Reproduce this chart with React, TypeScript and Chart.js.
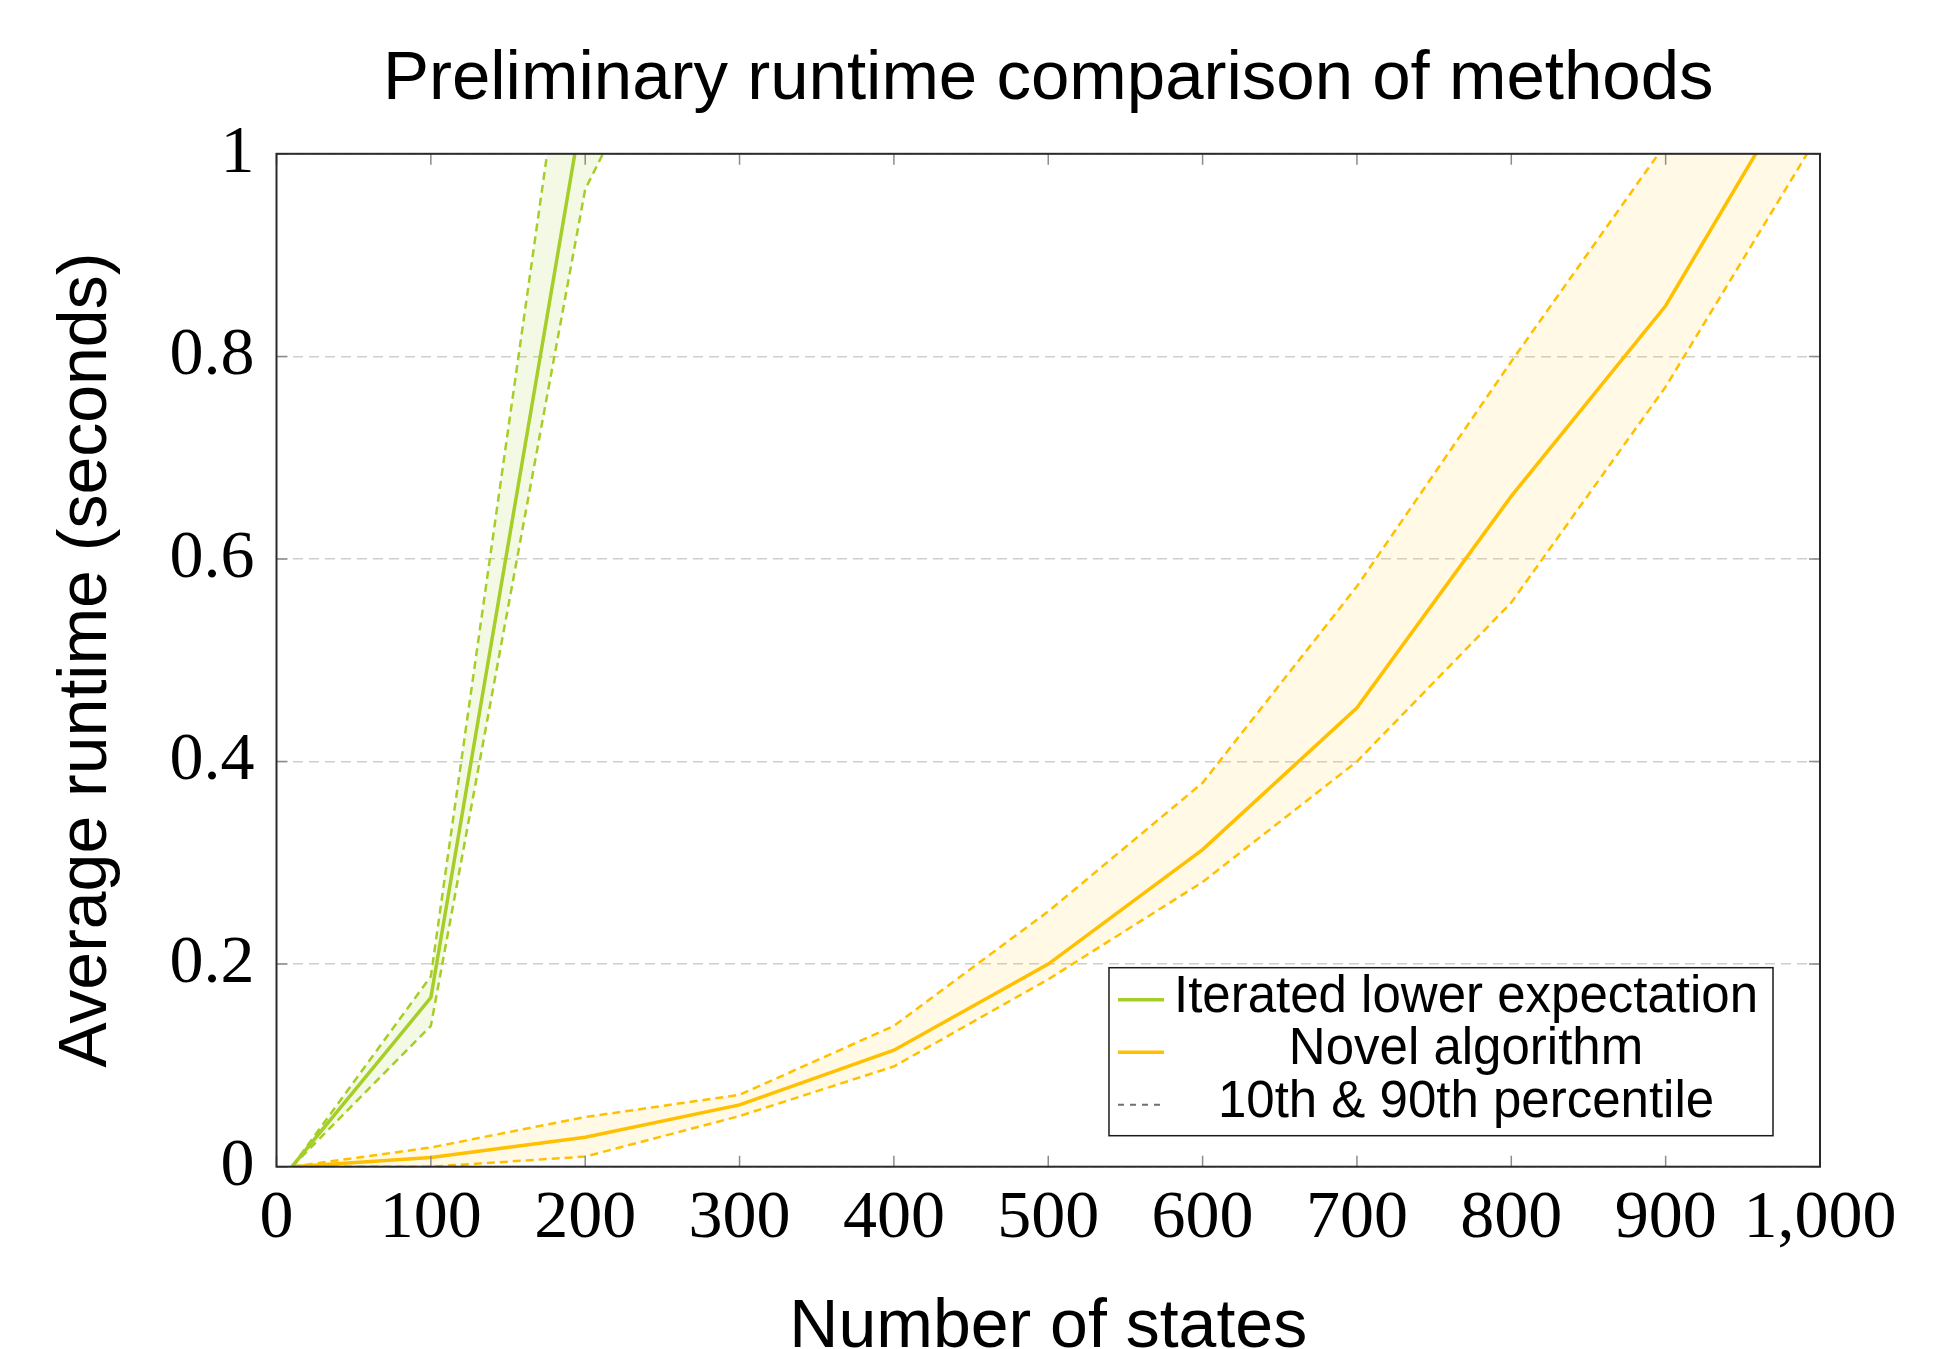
import React, { useEffect, useRef } from 'react';
import { Chart, registerables } from 'chart.js';

Chart.register(...registerables);

// ---- Data ----
const titleText = 'Preliminary runtime comparison of methods';
const xAxisTitle = 'Number of states';
const yAxisTitle = 'Average runtime (seconds)';

const greenStates = [10, 100, 200, 300];
const greenMean = [0, 0.167, 1.06, 2.1];
const greenP90 = [0, 0.188, 1.266, 2.6];
const greenP10 = [0, 0.139, 0.965, 1.27];

const novelStates = [10, 100, 200, 300, 400, 500, 600, 700, 800, 900, 1000];
const novelMean = [0, 0.009, 0.029, 0.061, 0.115, 0.2, 0.313, 0.453, 0.662, 0.85, 1.107];
const novelP90 = [0, 0.019, 0.049, 0.071, 0.139, 0.252, 0.379, 0.573, 0.795, 1.01, 1.25];
const novelP10 = [0, 0.0, 0.01, 0.05, 0.099, 0.185, 0.281, 0.4, 0.557, 0.77, 1.021];

const xTickValues = [0, 100, 200, 300, 400, 500, 600, 700, 800, 900, 1000];
const xTickLabels = ['0', '100', '200', '300', '400', '500', '600', '700', '800', '900', '1,000'];
const yTickValues = [0, 0.2, 0.4, 0.6, 0.8, 1];
const yTickLabels = ['0', '0.2', '0.4', '0.6', '0.8', '1'];

const seriesNames = ['Iterated lower expectation', 'Novel algorithm'];
const percentileName = '10th & 90th percentile';

const GREEN = '#a6ce28';
const YELLOW = '#ffc000';
const GREEN_FILL = 'rgba(166,206,40,0.12)';
const YELLOW_FILL = 'rgba(255,192,0,0.10)';

const SANS = '"Liberation Sans", Arial, sans-serif';
const SERIF = '"Liberation Serif", "Times New Roman", serif';

const toPoints = (xs: number[], ys: number[]) => xs.map((x, i) => ({ x, y: ys[i] }));

const framePlugin = {
  id: 'frameTicks',
  afterDatasetsDraw(chart: any) {
    const { ctx, chartArea, scales } = chart;
    const { left, right, top, bottom } = chartArea;
    const xs = scales.x;
    const ys = scales.y;
    ctx.save();
    ctx.strokeStyle = '#8c8c8c';
    ctx.lineWidth = 1.5;
    ctx.setLineDash([]);
    ctx.beginPath();
    xs.ticks.forEach((t: any) => {
      const px = xs.getPixelForValue(t.value);
      ctx.moveTo(px, bottom);
      ctx.lineTo(px, bottom - 11);
      ctx.moveTo(px, top);
      ctx.lineTo(px, top + 11);
    });
    ys.ticks.forEach((t: any) => {
      const py = ys.getPixelForValue(t.value);
      ctx.moveTo(left, py);
      ctx.lineTo(left + 11, py);
      ctx.moveTo(right, py);
      ctx.lineTo(right - 11, py);
    });
    ctx.stroke();
    ctx.strokeStyle = '#2a2a2a';
    ctx.lineWidth = 2;
    ctx.strokeRect(left, top, right - left, bottom - top);
    ctx.restore();
  },
};

const legendPlugin = {
  id: 'boxLegend',
  afterDraw(chart: any) {
    const { ctx, chartArea } = chart;
    const entries = [
      { label: seriesNames[0], color: GREEN, dash: [] as number[], width: 3.5 },
      { label: seriesNames[1], color: YELLOW, dash: [] as number[], width: 3.5 },
      { label: percentileName, color: '#707070', dash: [6, 6], width: 2 },
    ];
    ctx.save();
    ctx.font = `51px ${SANS}`;
    const textW = Math.max(...entries.map((e) => ctx.measureText(e.label).width));
    const padL = 9;
    const sampleW = 46;
    const gap = 10;
    const padR = 15;
    const boxW = padL + sampleW + gap + textW + padR;
    const rowH = 52.5;
    const firstRow = 30;
    const boxH = firstRow + rowH * (entries.length - 1) + 33;
    const boxRight = chartArea.right - 47;
    const boxBottom = chartArea.bottom - 31;
    const boxLeft = boxRight - boxW;
    const boxTop = boxBottom - boxH;
    ctx.fillStyle = '#ffffff';
    ctx.fillRect(boxLeft, boxTop, boxW, boxH);
    ctx.strokeStyle = '#1a1a1a';
    ctx.lineWidth = 1.5;
    ctx.strokeRect(boxLeft, boxTop, boxW, boxH);
    entries.forEach((e, i) => {
      const cy = boxTop + firstRow + i * rowH;
      ctx.beginPath();
      ctx.setLineDash(e.dash);
      ctx.strokeStyle = e.color;
      ctx.lineWidth = e.width;
      ctx.moveTo(boxLeft + padL, cy + 2);
      ctx.lineTo(boxLeft + padL + sampleW, cy + 2);
      ctx.stroke();
      ctx.setLineDash([]);
      ctx.fillStyle = '#000000';
      ctx.textAlign = 'center';
      ctx.textBaseline = 'middle';
      ctx.fillText(e.label, boxLeft + padL + sampleW + gap + textW / 2, cy);
    });
    ctx.restore();
  },
};

export default function App() {
  const canvasRef = useRef<HTMLCanvasElement | null>(null);

  useEffect(() => {
    if (!canvasRef.current) return;
    const dashed = [8, 5];
    const bandWidth = 2.5;
    const meanWidth = 3.5;
    const chart = new Chart(canvasRef.current, {
      type: 'line',
      data: {
        datasets: [
          {
            label: percentileName,
            data: toPoints(greenStates, greenP90),
            borderColor: GREEN,
            borderWidth: bandWidth,
            borderDash: dashed,
            backgroundColor: GREEN_FILL,
            fill: '+1',
            pointRadius: 0,
            tension: 0,
            clip: 0,
          },
          {
            label: percentileName,
            data: toPoints(greenStates, greenP10),
            borderColor: GREEN,
            borderWidth: bandWidth,
            borderDash: dashed,
            fill: false,
            pointRadius: 0,
            tension: 0,
            clip: 0,
          },
          {
            label: seriesNames[0],
            data: toPoints(greenStates, greenMean),
            borderColor: GREEN,
            borderWidth: meanWidth,
            fill: false,
            pointRadius: 0,
            tension: 0,
            clip: 0,
          },
          {
            label: percentileName,
            data: toPoints(novelStates, novelP90),
            borderColor: YELLOW,
            borderWidth: bandWidth,
            borderDash: dashed,
            backgroundColor: YELLOW_FILL,
            fill: '+1',
            pointRadius: 0,
            tension: 0,
            clip: 0,
          },
          {
            label: percentileName,
            data: toPoints(novelStates, novelP10),
            borderColor: YELLOW,
            borderWidth: bandWidth,
            borderDash: dashed,
            fill: false,
            pointRadius: 0,
            tension: 0,
            clip: 0,
          },
          {
            label: seriesNames[1],
            data: toPoints(novelStates, novelMean),
            borderColor: YELLOW,
            borderWidth: meanWidth,
            fill: false,
            pointRadius: 0,
            tension: 0,
            clip: 0,
          },
        ],
      },
      options: {
        animation: false,
        responsive: true,
        maintainAspectRatio: false,
        layout: { padding: { left: 0, right: 122, top: 0, bottom: 0 } },
        plugins: {
          legend: { display: false },
          tooltip: { enabled: false },
          title: {
            display: true,
            text: titleText,
            fullSize: false,
            color: '#000000',
            font: { family: SANS, size: 69, weight: 'normal', lineHeight: 1.2 },
            padding: { top: 39, bottom: 32 },
          },
        },
        scales: {
          x: {
            type: 'linear',
            min: 0,
            max: 1000,
            afterBuildTicks: (scale: any) => {
              scale.ticks = xTickValues.map((v) => ({ value: v }));
            },
            afterFit: (scale: any) => {
              scale.height = 182.3;
            },
            grid: { display: false, drawTicks: false },
            border: { display: false },
            ticks: {
              color: '#000000',
              padding: 18,
              maxRotation: 0,
              autoSkip: false,
              font: { family: SERIF, size: 68, lineHeight: 1 },
              callback: (_v: any, i: number) => xTickLabels[i],
            },
            title: {
              display: true,
              text: xAxisTitle,
              color: '#000000',
              font: { family: SANS, size: 68, lineHeight: 0.62 },
              padding: { top: 0, bottom: 0 },
            },
          },
          y: {
            type: 'linear',
            min: 0,
            max: 1,
            afterBuildTicks: (scale: any) => {
              scale.ticks = yTickValues.map((v) => ({ value: v }));
            },
            afterFit: (scale: any) => {
              scale.width = 276.5;
            },
            grid: {
              display: true,
              drawTicks: false,
              color: '#cfcfcf',
              lineWidth: 1.5,
            },
            border: { display: false, dash: [10, 6] },
            ticks: {
              color: '#000000',
              padding: 22,
              autoSkip: false,
              font: { family: SERIF, size: 68, lineHeight: 1 },
              callback: (_v: any, i: number) => yTickLabels[i],
            },
            title: {
              display: true,
              text: yAxisTitle,
              color: '#000000',
              font: { family: SANS, size: 68, lineHeight: 1.2 },
              padding: { top: 46, bottom: 0 },
            },
          },
        },
      } as any,
      plugins: [framePlugin, legendPlugin],
    });
    return () => chart.destroy();
  }, []);

  return (
    <div style={{ position: 'absolute', left: 0, top: 0, width: 1942, height: 1349, background: '#ffffff' }}>
      <canvas ref={canvasRef} />
    </div>
  );
}
